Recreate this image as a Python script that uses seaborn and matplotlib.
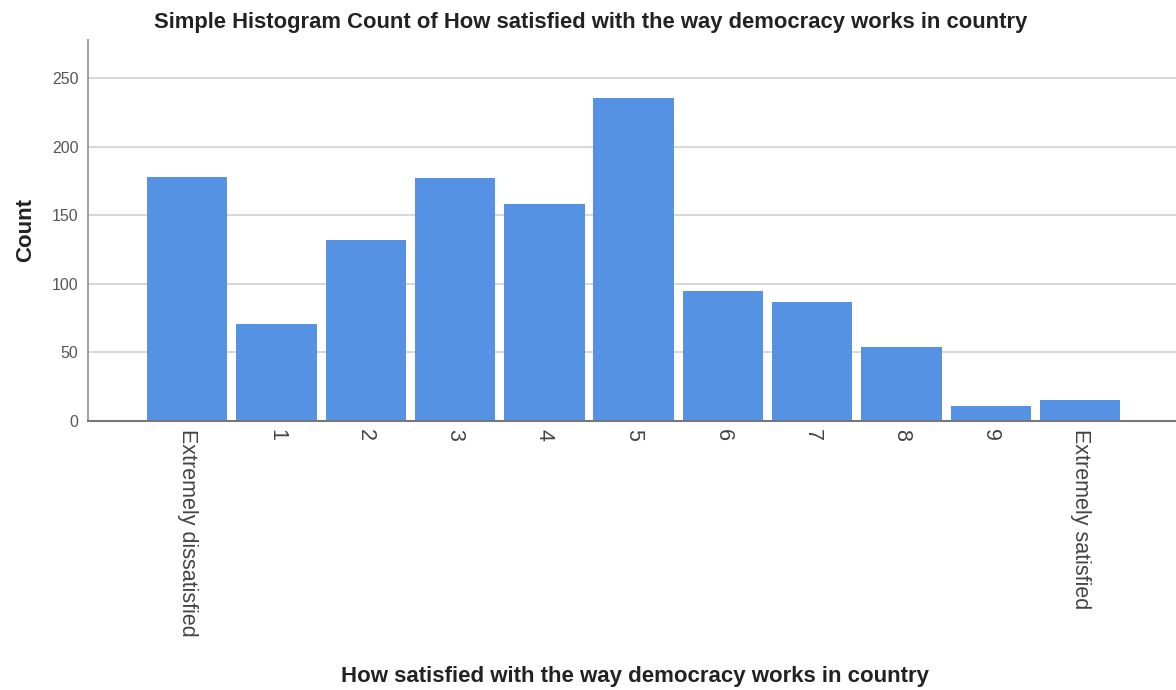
import pandas as pd
import matplotlib.pyplot as plt
import seaborn as sns

# Dati
categorie = ['Extremely dissatisfied', '1', '2', '3', '4', '5',
             '6', '7', '8', '9', 'Extremely satisfied']
conteggi = [178, 71, 132, 177, 158, 236, 95, 87, 54, 11, 15]
y_ticks = [0, 50, 100, 150, 200, 250]

df = pd.DataFrame({'Risposta': categorie, 'Count': conteggi})

sns.set_theme(style="white")
plt.rcParams['font.family'] = ['Liberation Sans', 'DejaVu Sans']

fig = plt.figure(figsize=(11.76, 6.9), dpi=100)
ax = fig.add_axes([0.075, 0.39, 0.925, 0.552])

sns.barplot(
    x='Risposta',
    y='Count',
    data=df,
    order=categorie,
    color='#5592e3',
    saturation=1,
    width=0.9,
    linewidth=0,
    ax=ax,
    zorder=3
)

ax.set_xlim(-1.11, 11.075)
ax.set_ylim(0, 278)
ax.set_yticks(y_ticks)
ax.yaxis.grid(True, color='#d4d4d4', linewidth=1.3, zorder=0)
ax.set_axisbelow(True)

ax.tick_params(axis='x', labelrotation=270, labelsize=15.5, colors='#444444',
               length=0, pad=6)
ax.tick_params(axis='y', labelsize=11.5, colors='#555555', length=0, pad=7)
for lbl in ax.get_xticklabels():
    lbl.set_va('top')
    lbl.set_ha('center')

for side in ['top', 'right']:
    ax.spines[side].set_visible(False)
ax.spines['left'].set_color('#999999')
ax.spines['left'].set_linewidth(1.3)
ax.spines['bottom'].set_color('#777777')
ax.spines['bottom'].set_linewidth(1.5)
ax.spines['bottom'].set_zorder(5)

ax.set_xlabel('')
ax.set_ylabel('Count', fontsize=16, fontweight='bold', color='#222222')
ax.yaxis.set_label_coords(-0.048, 0.5)

fig.text(0.502, 0.968,
         'Simple Histogram Count of How satisfied with the way democracy works in country',
         ha='center', va='center', fontsize=15.8, fontweight='bold',
         color='#222222')
fig.text(0.54, 0.02,
         'How satisfied with the way democracy works in country',
         ha='center', va='center', fontsize=16, fontweight='bold',
         color='#222222')

plt.savefig('out.png', dpi=100)
